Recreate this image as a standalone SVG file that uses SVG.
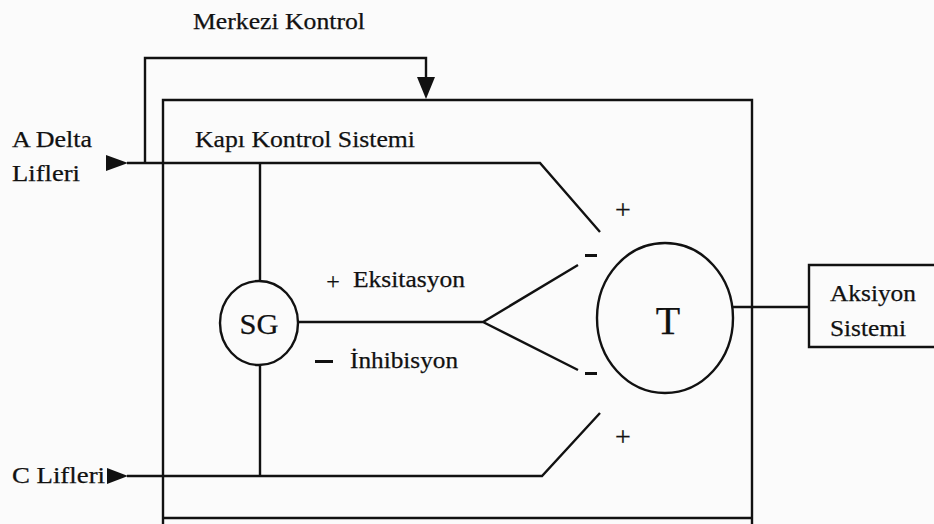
<svg xmlns="http://www.w3.org/2000/svg" width="934" height="524" viewBox="0 0 934 524">
<style>
.ln{fill:none;stroke:#111;stroke-width:2.4;stroke-linejoin:miter}
.ah{fill:#111;stroke:none}
text{font-family:"Liberation Serif","Times New Roman","DejaVu Serif",serif;fill:#111;stroke:#111;stroke-width:0.25}
.c{text-anchor:middle}
.mk{fill:#111}
</style>
<rect width="934" height="524" fill="#fbfbfb"/>
<g id="merkezi-label">
<text x="193" y="29" font-size="23" textLength="172" lengthAdjust="spacingAndGlyphs">Merkezi Kontrol</text>
</g>
<g id="gate-control-system">
<path class="ln" d="M163,524 V100 H752 V524 M163,518 H752"/>
<text x="195" y="147" font-size="24" textLength="220" lengthAdjust="spacingAndGlyphs">Kapı Kontrol Sistemi</text>
</g>
<g id="a-delta">
<text x="12" y="147" font-size="23" textLength="80" lengthAdjust="spacingAndGlyphs">A Delta</text>
<text x="12" y="181" font-size="23" textLength="68" lengthAdjust="spacingAndGlyphs">Lifleri</text>
</g>
<g id="c-lifleri">
<text x="12" y="483" font-size="23" textLength="93" lengthAdjust="spacingAndGlyphs">C Lifleri</text>
</g>
<g id="sg">
<ellipse class="ln" cx="259" cy="323" rx="39" ry="42"/>
<text class="c" x="259" y="334" font-size="30" textLength="39" lengthAdjust="spacingAndGlyphs">SG</text>
</g>
<g id="t">
<ellipse class="ln" cx="665" cy="318" rx="68" ry="75"/>
<text class="c" x="668" y="334" font-size="40">T</text>
</g>
<g id="aksiyon">
<path class="ln" d="M940,265 H809 V347 H940"/>
<text x="830" y="301" font-size="23" textLength="86" lengthAdjust="spacingAndGlyphs">Aksiyon</text>
<text x="830" y="336" font-size="23" textLength="76" lengthAdjust="spacingAndGlyphs">Sistemi</text>
</g>
<g id="signs">
<text class="c" x="333" y="289" font-size="24">+</text>
<text x="353" y="287" font-size="23" textLength="112" lengthAdjust="spacingAndGlyphs">Eksitasyon</text>
<rect class="mk" x="315" y="360" width="18" height="3"/>
<text x="350" y="368" font-size="23" textLength="108" lengthAdjust="spacingAndGlyphs">İnhibisyon</text>
<text class="c" x="623" y="219" font-size="28">+</text>
<text class="c" x="623" y="446" font-size="28">+</text>
<rect class="mk" x="585" y="254" width="12" height="3"/>
<rect class="mk" x="585" y="372" width="12" height="3"/>
</g>
<g id="connectors">
<path class="ln" d="M127,163 H540 L600,232"/>
<path class="ln" d="M145,163 V58 H426 V80"/>
<polygon class="ah" points="417,77 435,77 426,99"/>
<polygon class="ah" points="106,155 106,171 128,163"/>
<path class="ln" d="M127,476 H542 L600,413"/>
<polygon class="ah" points="107,468 107,484 128,476"/>
<path class="ln" d="M260,163 V281 M260,365 V476"/>
<path class="ln" d="M298,322 H483 L578,265 M483,322 L578,370"/>
<path class="ln" d="M733,307 H809"/>
</g>
</svg>
